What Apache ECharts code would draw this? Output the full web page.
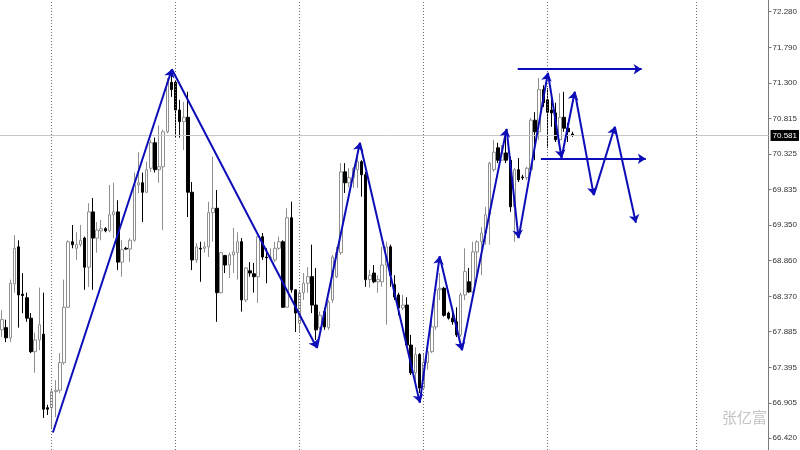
<!DOCTYPE html>
<html>
<head>
<meta charset="utf-8">
<script src="https://cdn.jsdelivr.net/npm/echarts@6/dist/echarts.min.js"></script>
<style>html,body{margin:0;padding:0;background:#fff}#c{width:800px;height:450px}</style>
</head>
<body>
<div id="c"></div>
<script>
// ---- data ----
const slotCount = 186; // bar slots across the plot (incl. empty future area)
const categories = Array.from({length: slotCount}, (_, i) => String(i + 1));
// [open, close, low, high]
const ohlc = [
[67.91,68.05,67.81,68.18],[67.94,67.80,67.74,68.05],[67.80,68.55,67.74,68.60],[68.54,69.03,68.42,69.21],
[69.05,68.39,67.94,69.14],[68.40,68.38,68.14,68.69],[68.35,68.07,68.02,68.42],[68.07,67.61,67.59,68.14],
[67.61,67.77,67.32,67.87],[67.77,67.98,67.63,68.49],[67.85,66.82,66.70,68.42],[66.84,66.82,66.74,66.88],
[66.84,67.06,66.56,67.11],[67.06,67.08,66.71,67.22],[67.08,67.46,67.04,67.59],[67.46,68.22,67.43,68.60],
[68.22,69.12,68.21,69.14],[69.12,69.08,69.03,69.35],[69.03,69.08,68.87,69.25],[69.08,69.14,69.05,69.35],
[69.17,68.77,68.46,69.19],[68.77,69.53,68.50,69.65],[69.53,69.17,68.46,69.72],[69.17,69.28,68.97,69.39],
[69.27,69.30,69.14,69.42],[69.30,69.27,69.25,69.32],[69.27,69.49,69.25,69.90],[69.49,69.53,69.17,69.93],
[69.53,68.84,68.73,69.69],[68.84,69.01,68.64,69.14],[69.03,69.02,69.01,69.05],[69.02,69.14,68.84,69.17],
[69.14,69.90,69.12,70.07],[69.90,69.93,69.79,70.35],[69.93,69.80,69.39,70.07],[69.80,70.11,69.79,70.22],
[70.13,70.48,70.08,70.52],[70.48,70.11,70.07,70.55],[70.11,70.15,69.93,70.72],[70.15,70.63,69.28,70.66],
[70.63,71.31,70.61,71.37],[71.31,71.21,71.11,71.48],[71.31,70.93,70.55,71.34],[70.93,70.77,70.55,71.07],
[70.77,70.83,70.38,71.04],[70.83,69.80,69.46,71.18],[69.80,68.87,68.73,69.94],[68.87,69.05,68.83,69.10],
[69.03,69.02,68.57,69.12],[69.03,69.05,68.97,69.12],[69.05,69.52,68.91,69.67],[69.52,69.58,69.12,70.29],
[69.58,68.42,68.02,69.83],[68.42,68.97,68.41,68.98],[68.93,68.80,68.69,68.94],[68.80,68.94,68.62,68.97],
[68.94,68.98,68.69,69.31],[68.97,69.12,68.60,69.25],[69.12,68.32,68.16,69.17],[68.32,68.76,68.29,68.77],
[68.72,68.69,68.64,68.84],[68.68,68.64,68.42,68.83],[68.64,69.19,68.28,69.21],[69.19,68.91,68.87,69.24],
[68.91,68.90,68.55,69.03],[68.90,68.91,68.87,69.03],[68.87,69.03,68.84,69.12],[69.03,69.12,69.01,69.19],
[69.12,68.22,68.21,69.14],[68.22,69.45,68.21,69.58],[69.45,68.46,68.42,69.67],[68.46,68.14,67.88,68.46],
[68.00,68.42,67.88,68.46],[68.42,68.55,68.32,68.69],[68.55,68.64,68.42,68.77],[68.64,68.25,68.14,69.08],
[68.25,67.91,67.77,68.76],[67.94,68.11,67.91,68.16],[68.16,67.95,67.91,68.21],[67.94,68.29,67.91,68.32],
[68.32,68.91,68.28,68.94],[68.64,68.97,68.62,69.05],[68.97,70.08,68.94,70.20],[70.08,69.93,69.79,70.20],
[69.93,70.00,69.87,70.13],[70.00,70.13,69.86,70.15],[70.11,70.22,69.86,70.38],[70.22,70.04,69.74,70.24],
[70.04,68.60,68.50,70.08],[68.60,68.66,68.49,68.73],[68.69,68.57,68.55,68.80],[68.57,68.60,68.42,68.66],
[68.57,68.80,68.50,69.05],[68.80,69.05,67.98,69.12],[69.05,68.66,68.50,69.08],[68.53,68.36,68.32,68.66],
[68.39,68.21,68.11,68.42],[68.21,68.25,68.18,68.39],[68.25,67.70,67.67,68.36],[67.70,67.32,67.29,67.84],
[67.32,67.57,67.19,67.67],[67.57,67.11,67.04,67.59],[67.11,67.46,67.08,67.59],[67.46,67.61,67.36,67.67],
[67.61,67.95,67.59,68.05],[67.95,68.46,67.91,68.50],[68.46,68.48,68.32,68.69],[68.48,68.11,68.09,68.50],
[68.14,68.07,68.05,68.16],[68.07,68.02,67.98,68.14],[68.02,67.84,67.81,68.22],[67.84,68.39,67.81,68.42],
[68.39,68.71,68.32,69.03],[68.57,68.43,68.42,68.76],[68.43,68.98,68.42,69.12],[68.98,69.12,68.66,69.14],
[69.12,69.24,68.66,69.32],[69.24,69.49,69.08,69.60],[69.49,70.20,69.08,70.22],[70.11,70.35,70.08,70.52],
[70.41,70.24,70.20,70.48],[70.24,70.34,70.24,70.45],[70.34,70.24,70.20,70.56],[70.24,69.60,69.53,70.29],
[69.60,70.11,69.12,70.13],[70.11,69.97,69.94,70.27],[70.01,70.00,69.97,70.04],[70.00,70.13,69.97,70.15],
[70.11,70.79,70.08,70.82],[70.79,70.63,70.24,70.90],[70.63,71.21,70.52,71.37],[71.21,71.03,70.97,71.27],
[71.07,70.90,70.41,71.23],[70.93,70.89,70.70,71.11],[70.89,70.52,70.49,71.03],[70.52,70.83,70.48,71.16],
[70.83,70.68,70.63,71.18],[70.68,70.63,70.49,70.75],[70.60,70.581,70.56,70.63]
];
const currentPrice = 70.581;
// y-axis tick labels (price scale)
const tickValues = [72.280,71.790,71.300,70.815,70.325,69.835,69.350,68.860,68.370,67.885,67.395,66.905,66.420];
const priceMin = 66.259, priceMax = 72.441;
// vertical dotted separators (bar slot index)
const separatorSlots = [12, 42, 72, 102, 132, 168];
// hand-drawn zigzag wave (bar slot index, price)
const waveX = [12.3, 41.1, 76.2, 86.6, 101.1, 105.9, 111.3, 122.1, 125.0, 132.1, 135.4, 138.6, 143.2, 148.3, 153.4];
const waveY = [66.50, 71.49, 67.66, 70.48, 66.91, 68.92, 67.63, 70.67, 69.17, 71.44, 70.27, 71.18, 69.76, 70.70, 69.38];
// horizontal arrows: [startSlot, endSlot, price]
const levelStart = [124.8, 130.4];
const levelEnd = [154.8, 155.8];
const levelPrice = [71.49, 70.26];

// ---- chart ----
const blue = '#0c0cb8';
const chart = echarts.init(document.getElementById('c'), null, {renderer: 'canvas'});
const waveSegs = [];
for (let i = 0; i < waveX.length - 1; i++) {
  waveSegs.push([{coord: [waveX[i], waveY[i]]}, {coord: [waveX[i + 1], waveY[i + 1]]}]);
}
for (let i = 0; i < levelPrice.length; i++) {
  waveSegs.push([{coord: [levelStart[i], levelPrice[i]]}, {coord: [levelEnd[i], levelPrice[i]]}]);
}
chart.setOption({
  animation: false,
  backgroundColor: '#ffffff',
  grid: {left: 0, right: 31, top: 0, bottom: 0, containLabel: false},
  xAxis: [
    {type: 'category', data: categories, show: false, boundaryGap: true},
    {type: 'value', min: -0.5, max: slotCount - 0.5, show: false}
  ],
  yAxis: {
    type: 'value', position: 'right', min: priceMin, max: priceMax, scale: true,
    axisLine: {show: true, onZero: false, lineStyle: {color: '#7a7a7a', width: 1}},
    axisTick: {show: true, length: 3, inside: false, customValues: tickValues, lineStyle: {color: '#7a7a7a'}},
    axisLabel: {show: true, customValues: tickValues, formatter: v => v.toFixed(3), margin: 4,
      color: '#333', fontSize: 8, fontFamily: 'Liberation Sans'},
    splitLine: {show: false}
  },
  graphic: [{
    type: 'text', left: 722, top: 410,
    style: {text: '张亿富', fill: '#c3c3c3', fontSize: 15, fontFamily: 'Noto Sans CJK SC'}
  }],
  series: [
    {
      type: 'line', xAxisIndex: 1, yAxisIndex: 0, data: [], silent: true,
      markLine: {
        silent: true, symbol: ['none', 'none'], label: {show: false},
        lineStyle: {color: '#6e6e6e', type: [1, 2], width: 1},
        data: separatorSlots.map(s => ({xAxis: s}))
      }
    },
    {
      type: 'candlestick', xAxisIndex: 0, yAxisIndex: 0, data: ohlc, barWidth: 3, silent: true,
      itemStyle: {color: '#ffffff', color0: '#000000', borderColor: '#8f8f8f', borderColor0: '#000000', borderWidth: 1},
      markLine: {
        silent: true, symbol: ['none', 'none'],
        lineStyle: {color: '#c8c8c8', type: 'solid', width: 1},
        label: {show: true, position: 'end', distance: 2, formatter: () => currentPrice.toFixed(3),
          backgroundColor: '#000', color: '#fff', fontSize: 8, fontFamily: 'Liberation Sans', padding: [2, 2, 1, 2]},
        data: [{yAxis: currentPrice}]
      }
    },
    {
      type: 'line', xAxisIndex: 1, yAxisIndex: 0, data: [], silent: true, z: 5,
      markLine: {
        silent: true, symbol: ['none', 'arrow'], symbolSize: 8, label: {show: false},
        lineStyle: {color: blue, type: 'solid', width: 2},
        data: waveSegs
      }
    }
  ]
});
</script>
</body>
</html>
